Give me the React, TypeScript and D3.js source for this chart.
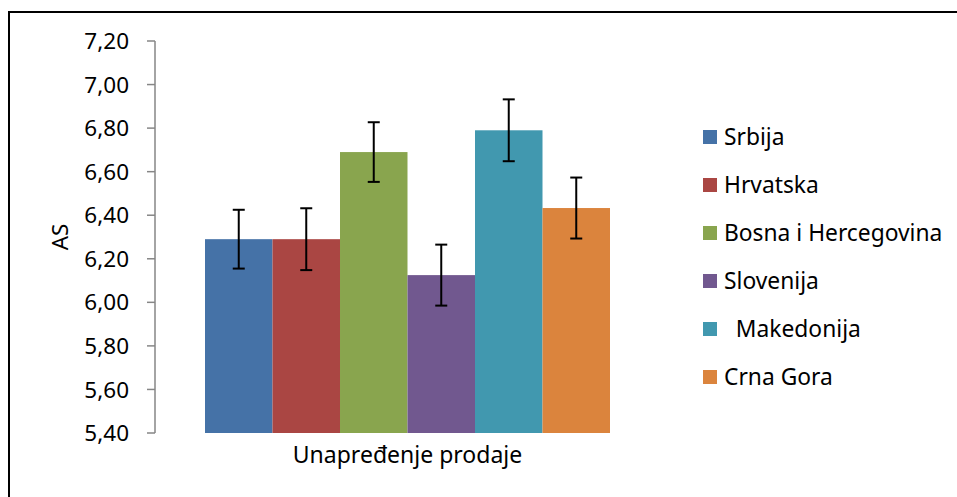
import React from "react";
import * as d3 from "d3";

const categories = ["Srbija", "Hrvatska", "Bosna i Hercegovina", "Slovenija", "  Makedonija", "Crna Gora"];
const values = [6.29, 6.29, 6.69, 6.125, 6.79, 6.433];
const errors = [0.135, 0.142, 0.137, 0.14, 0.142, 0.14];
const colors = ["#4572A7", "#AA4643", "#89A54E", "#71588F", "#4198AF", "#DB843D"];
const yTicks = [5.4, 5.6, 5.8, 6.0, 6.2, 6.4, 6.6, 6.8, 7.0, 7.2];
const groupLabel = "Unapređenje prodaje";
const yLabel = "AS";

const W = 957;
const H = 497;
const font = "'Noto Sans', sans-serif";

export default function App() {
  const plotLeft = 155;
  const plotRight = 660;
  const y = d3.scaleLinear().domain([5.4, 7.2]).range([433, 41]);
  const outer = d3.scaleBand().domain([groupLabel]).range([plotLeft, plotRight]).paddingInner(0).paddingOuter(50 / 405);
  const inner = d3.scaleBand().domain(categories).range([outer(groupLabel)!, outer(groupLabel)! + outer.bandwidth()]);
  const fmt = (v: number) => v.toFixed(2).replace(".", ",");
  const legendY = d3.scalePoint().domain(categories).range([137, 377]);

  return (
    <svg width={W} height={H} style={{ position: "absolute", left: 0, top: 0 }} fontFamily={font}>
      <rect x={0} y={0} width={W} height={H} fill="#fff" />
      <line x1={9} y1={12} x2={W + 5} y2={12} stroke="#000" strokeWidth={2} />
      <line x1={9} y1={11} x2={9} y2={H + 5} stroke="#000" strokeWidth={2} />
      {categories.map((c, i) => (
        <rect key={c} x={inner(c)} y={y(values[i])} width={inner.bandwidth()} height={y(5.4) - y(values[i])} fill={colors[i]} />
      ))}
      {categories.map((c, i) => {
        const cx = inner(c)! + inner.bandwidth() / 2;
        const t = y(values[i] + errors[i]);
        const b = y(values[i] - errors[i]);
        return (
          <g key={c} stroke="#000" strokeWidth={2}>
            <line x1={cx} x2={cx} y1={t} y2={b} />
            <line x1={cx - 6} x2={cx + 6} y1={t} y2={t} />
            <line x1={cx - 6} x2={cx + 6} y1={b} y2={b} />
          </g>
        );
      })}
      <line x1={plotLeft} x2={plotLeft} y1={y(7.2)} y2={y(5.4)} stroke="#868686" strokeWidth={1.5} />
      {yTicks.map((t) => (
        <g key={t}>
          <line x1={plotLeft - 8} x2={plotLeft} y1={y(t)} y2={y(t)} stroke="#868686" strokeWidth={1.5} />
          <text x={129} y={y(t)} dy="0.36em" textAnchor="end" fontSize={22.5} fill="#000">
            {fmt(t)}
          </text>
        </g>
      ))}
      <text transform={`translate(68,${(y(7.2) + y(5.4)) / 2}) rotate(-90)`} textAnchor="middle" fontSize={22.5} fill="#000">
        {yLabel}
      </text>
      <text x={(inner(categories[0])! + inner(categories[5])! + inner.bandwidth()) / 2} y={463} textAnchor="middle" fontSize={23} fill="#000">
        {groupLabel}
      </text>
      {categories.map((c, i) => (
        <g key={c}>
          <rect x={703} y={legendY(c)! - 7} width={14} height={14} fill={colors[i]} />
          <text x={724} y={legendY(c)} dy="0.36em" fontSize={22.8} fill="#000" style={{ whiteSpace: "pre" }}>
            {c}
          </text>
        </g>
      ))}
    </svg>
  );
}
